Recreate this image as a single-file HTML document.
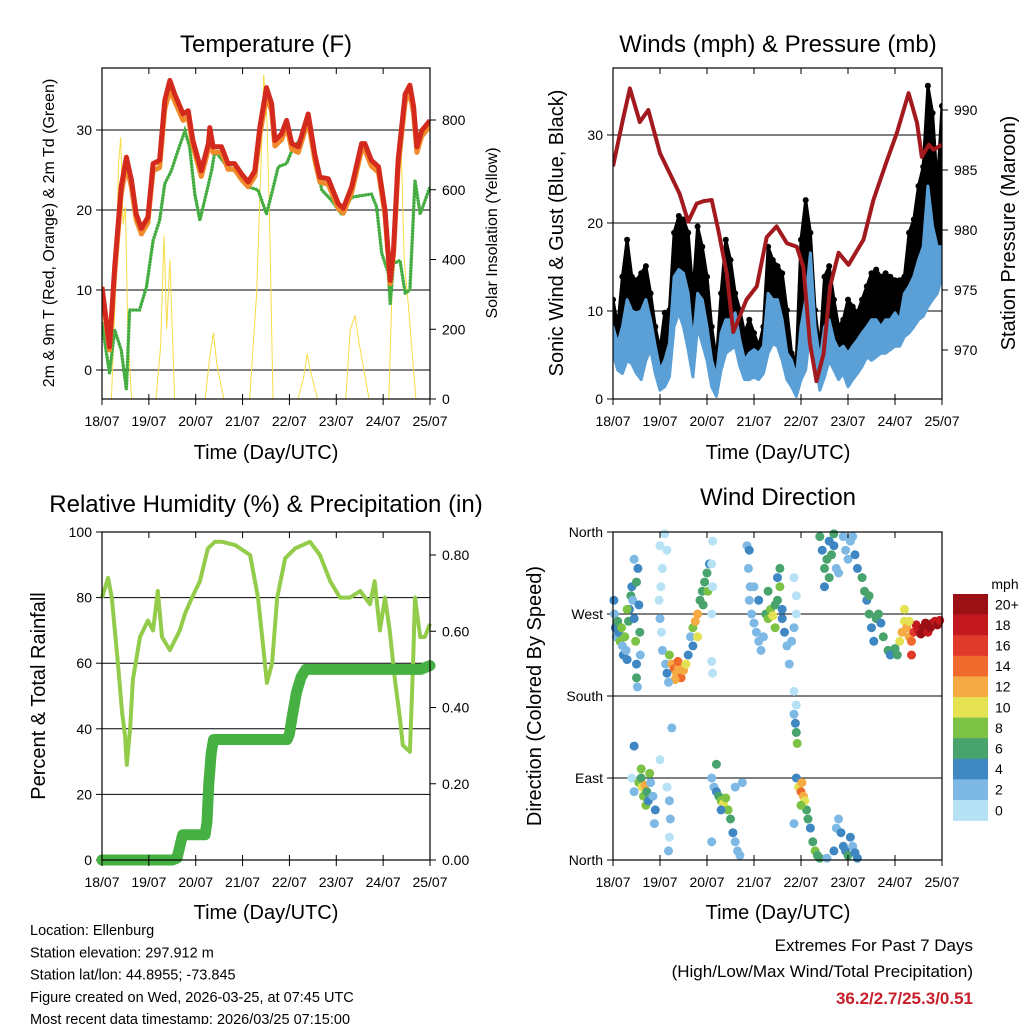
<!DOCTYPE html>
<html><head><meta charset="utf-8"><style>
html,body{margin:0;padding:0;background:#fff;}
svg{display:block;font-family:"Liberation Sans",sans-serif;}
</style></head><body>
<svg id="c" width="1024" height="1024" viewBox="0 0 1024 1024"></svg>
<script>
// ---------- DATA ----------
const tempT=[0,0.16,0.27,0.41,0.52,0.63,0.73,0.84,0.98,1.09,1.23,1.34,1.45,1.55,1.73,1.84,1.94,2.12,2.27,2.3,2.37,2.55,2.69,2.83,2.98,3.12,3.26,3.37,3.51,3.62,3.69,3.83,3.94,4.05,4.19,4.4,4.54,4.65,4.83,5.04,5.15,5.33,5.54,5.61,5.75,5.9,6.04,6.15,6.22,6.32,6.47,6.57,6.65,6.72,6.82,7.0];
const temp2m=[10.4,2.9,12.9,22.9,26.6,23.7,19.5,17.7,19.1,25.8,26.2,33.7,36.2,34.5,32,32.4,28.7,24.9,28.3,30.3,27.9,27.9,25.8,25.8,24.5,23.5,24.9,30.4,35.3,33.3,28.7,29.5,31.2,28.3,27.9,32,27,24.1,23.9,20.8,20.2,22.9,28.3,28.3,26.2,25.4,20,11.2,15,26.2,34.5,35.6,32.9,27.9,29.9,31.2];
const temp9m=[9.8,2.5,12,22,25.6,22.8,18.8,17,18.4,24.9,25.3,32.6,35,33.6,31.2,31.6,28,24.2,27.6,29.5,27.2,27.2,25.1,25.1,23.8,22.9,24.2,29.4,34.2,32.4,28,28.8,30.5,27.6,27.2,31.2,26.3,23.5,23.2,20.2,19.6,22.2,27.5,27.5,25.5,24.7,19.4,10.8,14.4,25.3,33.5,34.7,32.1,27.2,29.2,30.5];
const dewT=[0,0.16,0.27,0.41,0.52,0.59,0.8,0.95,1.09,1.23,1.34,1.48,1.62,1.77,1.87,1.98,2.09,2.19,2.34,2.41,2.62,2.91,3.12,3.33,3.51,3.62,3.76,3.94,4.05,4.26,4.44,4.54,4.69,4.9,5.11,5.33,5.54,5.75,5.86,5.97,6.11,6.15,6.22,6.36,6.47,6.57,6.68,6.79,7.0];
const dewV=[5.8,-0.4,5,2.5,-2.5,7.5,7.5,10.4,16.2,18.7,23.3,24.9,27.4,29.9,27.9,22,18.7,21.2,24.9,27.4,25.8,24.5,22.9,22.5,19.5,22,25.4,25.8,27.4,29.1,31.2,26.6,22.5,21.2,19.5,21.6,21.8,22,20.4,14.6,12.1,8.3,13.3,13.7,9.6,10,23.7,19.5,22.9];
const solarT=[0.2,0.3,0.35,0.4,0.45,0.5,0.55,0.63,1.15,1.25,1.32,1.38,1.45,1.55,2.2,2.3,2.38,2.45,2.6,3.15,3.3,3.4,3.45,3.52,3.58,3.65,4.18,4.3,4.38,4.45,4.6,5.2,5.3,5.4,5.5,5.7,6.12,6.22,6.3,6.38,6.45,6.55,6.7];
const solarV=[0,350,670,750,500,550,200,0,0,150,470,200,400,0,0,120,190,100,0,0,300,700,930,800,500,0,0,60,130,80,0,0,200,240,150,0,0,450,600,750,400,250,0];

const windT=[0,0.1,0.2,0.3,0.4,0.5,0.6,0.7,0.8,0.9,1.0,1.1,1.2,1.3,1.4,1.5,1.6,1.7,1.8,1.9,2.0,2.1,2.2,2.3,2.4,2.5,2.6,2.7,2.8,2.9,3.0,3.1,3.2,3.3,3.4,3.5,3.6,3.7,3.8,3.9,4.0,4.1,4.2,4.3,4.4,4.5,4.6,4.7,4.8,4.9,5.0,5.1,5.2,5.3,5.4,5.5,5.6,5.7,5.8,5.9,6.0,6.1,6.2,6.3,6.4,6.5,6.6,6.7,6.8,6.9,7.0];
const windLow=[5.2,3.3,2.9,4.4,4,2.9,2.2,4.4,5.6,2.9,1,1.4,2.5,8.2,9.8,8.2,5.6,2.5,8.2,6.3,4.4,1.4,0.3,3.3,5.2,5.6,6,3.7,2.2,2.2,2.5,2.2,2.9,5.2,6.3,6,4.4,2.2,1.4,0.3,2.2,3.3,8.2,4.4,1,2.5,4.4,3.3,2.2,2.9,1.4,2.2,2.9,3.7,4.8,4.4,4.8,5.2,5.2,5.6,6,6,7.1,7.5,8.2,9,9.4,10.5,11.3,12,13.9];
const windHigh=[8.2,6.3,8.2,11.3,10,9.8,10,11.3,9,6,3.3,4.4,6.3,13.9,14.7,14.3,12,6.3,12,11.3,8.2,4.4,2.5,7.5,9,9,9.8,6.7,4.4,5.2,5.6,5.2,6,12,11.3,11.3,9,5.2,4.4,2.5,8.2,11.3,16.6,8.2,4.4,8.2,9,6.7,5.6,6,5.2,6,6.7,7.5,8.2,9,9,8.2,9,9,9.8,9,12,12.8,13.9,15.8,17.3,24.2,19.6,17.3,17.3];
const gustHigh=[11.3,8.2,13.9,18.1,13.9,13.5,14.3,15.1,12,8.2,5.6,9.8,10.1,18.9,20.8,20.4,18.9,12,19.6,17.3,13.9,8.2,4.4,12,18.1,15.8,12,10.1,7.5,9,7.5,6,8.2,17.3,15.8,15.1,14.3,10.1,5.2,4.4,18.1,22.6,18.9,10.1,5.6,13.9,15.1,11.3,8.2,9,11.3,10.5,9.8,11.3,12.8,14.3,14.7,13.9,14.3,13.9,13.5,13.5,13.9,18.9,20.4,24.2,26.4,35.6,32.5,24.2,33.3];
const presT=[0,0.21,0.36,0.57,0.75,1.0,1.21,1.42,1.6,1.78,1.92,2.1,2.24,2.42,2.56,2.84,3.06,3.27,3.48,3.7,3.91,4.05,4.19,4.33,4.48,4.62,4.8,5.01,5.33,5.54,5.83,6.04,6.29,6.47,6.57,6.72,6.82,7.0];
const presV=[985.3,989.2,991.8,989,990,986.4,984.7,983,980.7,982.2,982.4,982.5,980,976.4,971.5,974.2,975.3,979.4,980.3,978.9,978.6,976.9,970.6,967.4,969.7,975.3,978.1,977.1,979.2,982.5,985.8,988.1,991.4,988.9,986.1,987.1,986.7,987.1];

const rhT=[0,0.13,0.21,0.34,0.43,0.49,0.53,0.6,0.66,0.81,0.98,1.09,1.19,1.28,1.45,1.66,1.77,1.92,2.09,2.26,2.41,2.56,2.84,3.16,3.33,3.44,3.52,3.63,3.74,3.91,4.12,4.44,4.65,4.87,5.08,5.29,5.51,5.72,5.82,5.93,6.04,6.14,6.25,6.36,6.42,6.57,6.64,6.68,6.79,6.89,7.0];
const rhV=[80,86,80,60,45,38,29,40,55,68,73,70,82,68,64,70,75,80,85,95,97,97,96,93,80,65,54,60,80,92,95,97,93,85,80,80,82,78,85,70,80,70,55,43,35,33,60,80,68,68,72];
const rainT=[0,1.5,1.6,1.65,1.72,2.2,2.24,2.28,2.33,2.38,3.95,4.0,4.05,4.15,4.25,4.35,6.8,7.0];
const rainV=[0,0,0.005,0.03,0.066,0.066,0.1,0.2,0.28,0.316,0.316,0.33,0.37,0.44,0.48,0.5,0.5,0.51];

const dirT=[0.02,0.03,0.05,0.07,0.1,0.12,0.15,0.18,0.2,0.22,0.25,0.28,0.3,0.33,0.35,0.38,0.4,0.42,0.45,0.48,0.5,0.5,0.52,0.5,0.53,0.55,0.57,0.58,0.45,0.3,
1.0,1.05,1.02,0.98,1.0,1.03,1.1,1.15,1.05,1.12,
1.25,1.3,1.35,1.4,1.45,1.38,1.5,1.32,1.2,1.15,1.18,1.55,1.6,
1.65,1.7,1.75,1.8,1.85,1.9,1.95,2.0,2.05,1.8,1.7,2.02,1.92,
2.1,2.12,2.1,2.12,2.1,2.12,
2.85,2.9,2.88,2.92,2.9,2.95,3.0,3.05,3.1,3.15,3.0,3.1,3.2,3.25,3.3,3.35,3.4,3.45,3.5,3.5,3.55,3.6,3.65,3.7,3.75,3.8,3.85,3.9,3.9,3.85,3.3,3.45,3.55,3.6,3.85,3.9,
4.4,4.45,4.5,4.55,4.6,4.65,4.7,4.75,4.8,4.9,4.95,5.0,5.05,5.1,5.15,5.2,4.6,4.5,4.7,
5.3,5.35,5.4,5.45,5.5,5.55,5.6,5.7,5.75,5.85,5.9,5.45,5.65,
6.1,6.15,6.2,6.25,6.3,6.35,6.4,6.45,6.5,6.55,6.6,6.65,6.7,6.75,6.8,6.85,6.9,6.95,6.0,6.05,6.2,6.35,6.3,
0.4,0.45,0.55,0.6,0.62,0.65,0.7,0.68,0.72,0.75,0.8,0.85,0.9,0.78,0.6,0.45,0.88,
1.15,1.2,1.22,1.2,1.18,1.0,1.25,
2.1,2.15,2.2,2.25,2.3,2.35,2.4,2.45,2.5,2.55,2.6,2.65,2.7,2.75,2.2,2.1,2.3,2.6,
3.85,3.88,3.9,3.92,3.9,3.95,4.0,4.02,4.05,4.08,4.12,4.15,4.2,4.25,4.3,4.35,4.4,3.85,4.0,
4.75,4.8,4.85,4.9,4.95,5.0,5.05,5.1,5.15,5.2,4.7,4.55];
const dirV=[285,270,255,245,262,250,240,255,235,225,245,230,220,262,275,290,300,285,265,240,215,200,190,305,320,280,250,225,330,275,
345,320,300,285,265,250,358,340,230,215,
215,210,205,212,200,218,208,198,225,205,195,215,225,
245,255,262,270,285,295,305,315,325,245,235,295,280,
325,300,270,205,218,350,
345,340,320,300,285,270,260,250,240,230,300,285,245,270,265,275,268,280,285,310,320,265,250,235,215,240,255,270,290,310,295,255,300,275,185,170,
355,340,320,330,350,335,345,320,315,355,340,330,350,355,335,320,310,300,358,
310,295,285,270,255,240,265,260,245,230,225,290,270,
240,250,262,255,245,240,250,258,252,248,255,260,250,255,260,262,258,263,232,225,275,225,262,
90,75,85,90,80,70,60,82,75,65,85,70,55,95,100,125,40,
80,65,45,25,10,110,145,
90,80,75,70,65,62,68,55,45,30,20,10,5,85,105,20,55,80,
160,150,140,128,90,80,75,85,70,65,55,45,35,20,10,5,2,40,60,
35,45,30,15,10,5,25,15,8,2,10,2];
const dirS=[5,3,4,3,6,4,9,8,3,4,9,3,4,7,5,6,5,3,4,8,4,7,3,6,4,5,6,3,3,8,
1,1,1,1,2,1,1,1,2,3,
13,14,13,12,14,15,12,12,9,4,3,10,4,
3,8,12,13,7,6,7,6,5,10,4,8,7,
1,1,1,1,1,1,
3,4,3,2,3,2,2,2,2,3,2,4,3,7,9,8,10,7,6,5,7,5,4,3,3,2,2,1,1,1,6,8,8,4,1,1,
6,4,6,7,5,7,4,3,3,3,3,2,3,3,4,5,7,4,6,
6,6,5,6,5,5,6,5,6,6,5,7,7,
11,12,10,13,12,14,17,18,19,21,20,22,19,21,20,18,21,19,6,7,11,16,10,
1,2,8,7,10,9,8,12,6,4,3,3,4,8,8,4,2,
1,2,2,1,3,1,3,
2,3,5,7,9,10,9,8,6,4,3,3,3,3,7,2,4,3,
3,5,7,8,5,10,14,13,12,11,7,7,5,6,8,6,7,2,9,
3,3,4,4,5,6,4,3,5,4,4,3];

const dayLabels=["18/07","19/07","20/07","21/07","22/07","23/07","24/07","25/07"];
const speedColors=["#b7e2f6","#7db9e4","#3f87c2","#48a46c","#7cc244","#e4e152","#f6aa43","#ef6b2d","#e03b2a","#c4181f","#9a1015"];
const speedLabels=["0","2","4","6","8","10","12","14","16","18","20+"];

// ---------- HELPERS ----------
const svg=document.getElementById('c');
const NS="http://www.w3.org/2000/svg";
function el(tag,attrs,parent){const e=document.createElementNS(NS,tag);for(const k in attrs)e.setAttribute(k,attrs[k]);(parent||svg).appendChild(e);return e;}
function txt(s,x,y,size,anchor,parent,rot){const t=el('text',{x:x,y:y,'font-size':size,'text-anchor':anchor||'middle',fill:'#000'},parent);if(rot!==undefined)t.setAttribute('transform','rotate('+rot+' '+x+' '+y+')');t.textContent=s;return t;}
function lin(d0,d1,p0,p1){return v=>p0+(v-d0)/(d1-d0)*(p1-p0);}
function pts(xs,ys,fx,fy){return xs.map((t,i)=>fx(t).toFixed(1)+','+fy(ys[i]).toFixed(1)).join(' ');}

function frame(g,x0,y0,x1,y1){
  el('rect',{x:x0,y:y0,width:x1-x0,height:y1-y0,fill:'none',stroke:'#000','stroke-width':1.2},g);
  const fx=lin(0,7,x0,x1);
  for(let i=0;i<dayLabels.length;i++){
    const x=fx(i);
    el('line',{x1:x,y1:y1-5,x2:x,y2:y1+6,stroke:'#000','stroke-width':1},g);
    el('line',{x1:x,y1:y0,x2:x,y2:y0+6,stroke:'#000','stroke-width':1},g);
    const t=txt(dayLabels[i],x,y1+27,14,'middle',g);
    
  }
  return fx;
}
function leftAxis(g,x0,vals,labels,fy,xr,grid){
  vals.forEach((v,i)=>{const y=fy(v);
    el('line',{x1:x0-6,y1:y,x2:x0,y2:y,stroke:'#000'},g);
    if(grid) el('line',{x1:x0,y1:y,x2:xr,y2:y,stroke:'#000','stroke-width':1},g);
    txt(labels[i],x0-10,y+5,14,'end',g);});
}
function rightAxis(g,x1,vals,labels,fy){
  vals.forEach((v,i)=>{const y=fy(v);
    el('line',{x1:x1,y1:y,x2:x1+6,y2:y,stroke:'#000'},g);
    txt(labels[i],x1+12,y+5,14,'start',g);});
}

// ---------- PANEL 1: TEMPERATURE ----------
{
const g=el('g',{});

const X0=102,X1=430,Y0=68,Y1=399;
const fx=lin(0,7,X0,X1), fy=lin(0,30,370,130), fs=lin(0,800,399,120);
const clip=el('clipPath',{id:'cp1'},g);el('rect',{x:X0,y:Y0,width:X1-X0,height:Y1-Y0},clip);
leftAxis(g,X0,[0,10,20,30],["0","10","20","30"],fy,X1,true);
rightAxis(g,X1,[0,200,400,600,800],["0","200","400","600","800"],fs);
const pg=el('g',{'clip-path':'url(#cp1)'},g);
const s=el('polyline',{points:pts(solarT,solarV,fx,fs),fill:'none',stroke:'#f7dc45','stroke-width':1},pg);

const d=el('polyline',{points:pts(dewT,dewV,fx,fy),fill:'none',stroke:'#45ad42','stroke-width':3.5,'stroke-dasharray':'0.1 3','stroke-linecap':'round'},pg);

const o=el('polyline',{points:pts(tempT,temp9m,fx,fy),fill:'none',stroke:'#f08a2a','stroke-width':5,'stroke-linejoin':'round'},pg);

const r=el('polyline',{points:pts(tempT,temp2m,fx,fy),fill:'none',stroke:'#d42a1e','stroke-width':5,'stroke-linejoin':'round'},pg);

frame(g,X0,Y0,X1,Y1);
const t1=txt("Temperature (F)",266,52,24,'middle',g);
const t2=txt("Time (Day/UTC)",266,459,20,'middle',g);
const t3=txt("2m & 9m T (Red, Orange) & 2m Td (Green)",54,233,16,'middle',g,-90);
const t4=txt("Solar Insolation (Yellow)",497,233,16,'middle',g,-90);
}

// ---------- PANEL 2: WINDS ----------
{
const g=el('g',{});

const X0=613,X1=942,Y0=68,Y1=399;
const fx=lin(0,7,X0,X1), fy=lin(0,30,399,135), fp=lin(970,990,350,110);
const clip=el('clipPath',{id:'cp2'},g);el('rect',{x:X0,y:Y0,width:X1-X0,height:Y1-Y0},clip);
leftAxis(g,X0,[0,10,20,30],["0","10","20","30"],fy,X1,true);
rightAxis(g,X1,[970,975,980,985,990],["970","975","980","985","990"],fp);
const pg=el('g',{'clip-path':'url(#cp2)'},g);
const gp=pts(windT,gustHigh,fx,fy)+' '+pts(windT.slice().reverse(),windHigh.slice().reverse(),fx,fy);
const gu=el('polygon',{points:gp,fill:'#000',stroke:'#000','stroke-width':3,'stroke-linejoin':'round'},pg);

const gd=el('g',{},pg);
for(let i=0;i<windT.length;i++){
  const c=el('circle',{cx:fx(windT[i]).toFixed(1),cy:fy(gustHigh[i]).toFixed(1),r:3,fill:'#000'},gd);
  
  
}
const wp=pts(windT,windHigh,fx,fy)+' '+pts(windT.slice().reverse(),windLow.slice().reverse(),fx,fy);
const wi=el('polygon',{points:wp,fill:'#5a9fd6',stroke:'#5a9fd6','stroke-width':3,'stroke-linejoin':'round'},pg);

const p=el('polyline',{points:pts(presT,presV,fx,fp),fill:'none',stroke:'#a31a1e','stroke-width':4,'stroke-linejoin':'round'},pg);

frame(g,X0,Y0,X1,Y1);
const t1=txt("Winds (mph) & Pressure (mb)",778,52,24,'middle',g);
const t2=txt("Time (Day/UTC)",778,459,20,'middle',g);
const t3=txt("Sonic Wind & Gust (Blue, Black)",563,233,20,'middle',g,-90);
const t4=txt("Station Pressure (Maroon)",1015,233,20,'middle',g,-90);
}

// ---------- PANEL 3: RH & PRECIP ----------
{
const g=el('g',{});

const X0=102,X1=430,Y0=532,Y1=860;
const fx=lin(0,7,X0,X1), fy=lin(0,100,860,532), fr=lin(0,0.8,860,555);
leftAxis(g,X0,[0,20,40,60,80,100],["0","20","40","60","80","100"],fy,X1,true);
rightAxis(g,X1,[0,0.2,0.4,0.6,0.8],["0.00","0.20","0.40","0.60","0.80"],fr);
const pg=el('g',{},g);
const rh=el('polyline',{points:pts(rhT,rhV,fx,fy),fill:'none',stroke:'#93cc4a','stroke-width':4,'stroke-linejoin':'round'},pg);

const rn=el('polyline',{points:pts(rainT,rainV,fx,fr),fill:'none',stroke:'#46b042','stroke-width':11,'stroke-linecap':'round','stroke-linejoin':'round'},pg);

frame(g,X0,Y0,X1,Y1);
const t1=txt("Relative Humidity (%) & Precipitation (in)",266,512,24,'middle',g);
const t2=txt("Time (Day/UTC)",266,919,20,'middle',g);
const t3=txt("Percent & Total Rainfall",45,696,20,'middle',g,-90);
}

// ---------- PANEL 4: WIND DIRECTION ----------
{
const g=el('g',{});

const X0=613,X1=942,Y0=532,Y1=860;
const fx=lin(0,7,X0,X1), fy=lin(0,360,860,532);
leftAxis(g,X0,[0,90,180,270,360],["North","East","South","West","North"],fy,X1,true);
const pg=el('g',{},g);
for(let i=0;i<dirT.length;i++){
  const ci=Math.min(10,Math.floor(dirS[i]/2));
  const c=el('circle',{cx:fx(dirT[i]).toFixed(1),cy:fy(dirV[i]).toFixed(1),r:4.5,fill:speedColors[ci]},pg);
  
  
}
frame(g,X0,Y0,X1,Y1);
const t1=txt("Wind Direction",778,505,24,'middle',g);
const t2=txt("Time (Day/UTC)",778,919,20,'middle',g);
const t3=txt("Direction (Colored By Speed)",541,696,20,'middle',g,-90);
const cb=el('g',{},g);
txt("mph",1005,589,14,'middle',cb);
const bh=20.6;
for(let k=0;k<11;k++){
  const idx=10-k;const y=594+k*bh;
  const r=el('rect',{x:953,y:y,width:35,height:bh+0.3,fill:speedColors[idx]},cb);
  
  txt(speedLabels[idx],995,y+bh/2+5,14,'start',cb);
}
}

// ---------- FOOTER ----------
{
const g=el('g',{});
const lines=["Location: Ellenburg","Station elevation: 297.912 m","Station lat/lon: 44.8955; -73.845","Figure created on Wed, 2026-03-25, at 07:45 UTC","Most recent data timestamp: 2026/03/25 07:15:00"];
lines.forEach((s,i)=>txt(s,30,935+i*22.3,14.5,'start',g));
const e=el('g',{});
txt("Extremes For Past 7 Days",973,951,17,'end',e);
txt("(High/Low/Max Wind/Total Precipitation)",973,977,17,'end',e);
const v=txt("36.2/2.7/25.3/0.51",973,1004,17,'end',e);v.setAttribute('fill','#c8202a');v.setAttribute('font-weight','bold');
}
</script>
</body></html>
